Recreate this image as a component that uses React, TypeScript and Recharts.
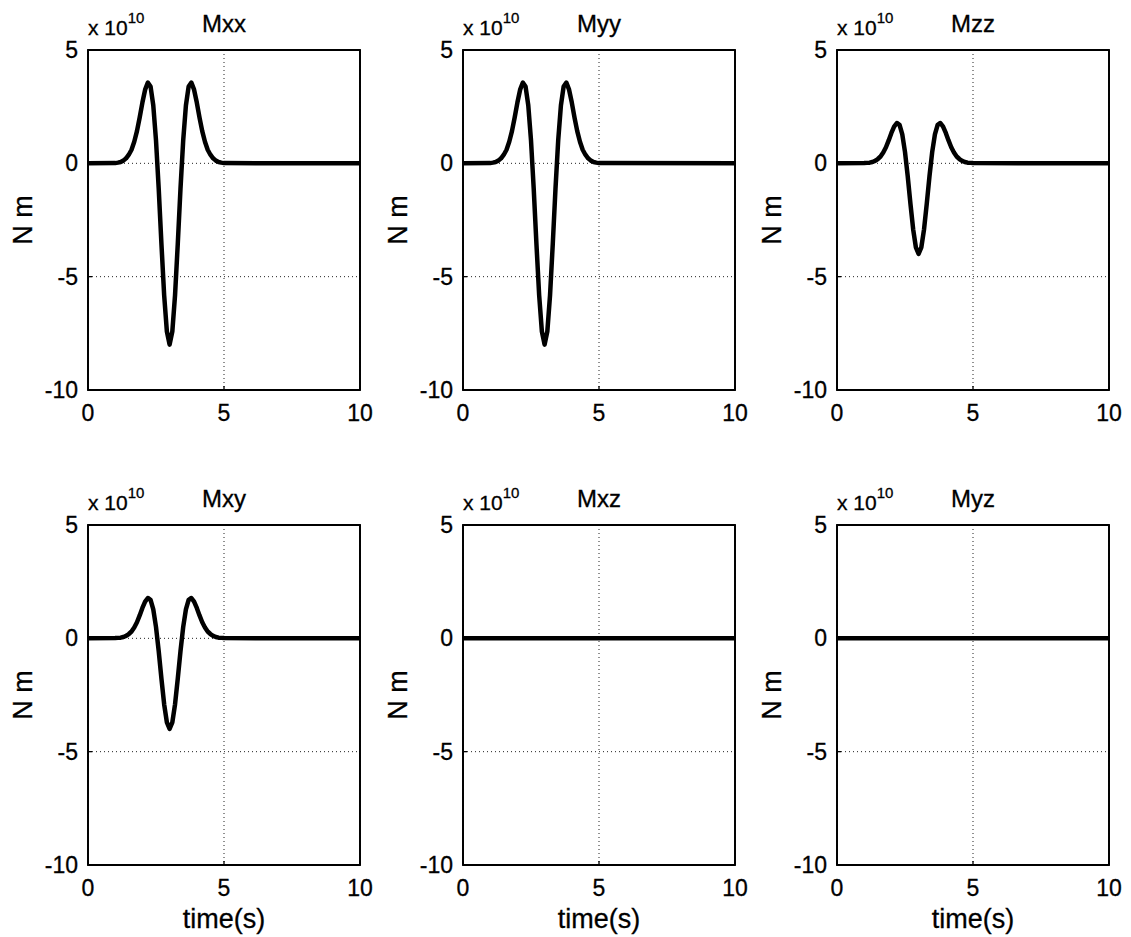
import React from "react";
import { LineChart, Line, XAxis, YAxis, CartesianGrid, ReferenceArea } from "recharts";

// ─── Data (values in units of 1e10 N m) ─────────────────────────────────────

const TIME = [
  0, 1.0, 1.1, 1.2, 1.3, 1.4, 1.5, 1.6, 1.7, 1.8, 1.9, 2.0, 2.1, 2.2, 2.3, 2.4, 2.5, 2.6, 2.7, 2.8, 2.9, 3.0,
  3.1, 3.2, 3.3, 3.4, 3.5, 3.6, 3.7, 3.8, 3.9, 4.0, 4.1, 4.2, 4.3, 4.4, 4.5, 4.6, 4.7, 4.8, 4.9, 5.0, 10,
];

const MXX = [
  0, 0.01, 0.03, 0.06, 0.12, 0.22, 0.38, 0.6, 0.95, 1.42, 2.02, 2.68, 3.25, 3.56, 3.39, 2.56, 1.01, -1.13, -3.56, -5.82,
  -7.42, -8.0, -7.42, -5.82, -3.56, -1.13, 1.01, 2.56, 3.39, 3.56, 3.25, 2.68, 2.02, 1.42, 0.95, 0.6, 0.38, 0.22, 0.12,
  0.06, 0.03, 0.01, 0,
];

const MYY = [
  0, 0.01, 0.03, 0.06, 0.12, 0.22, 0.38, 0.6, 0.95, 1.42, 2.02, 2.68, 3.25, 3.56, 3.39, 2.56, 1.01, -1.13, -3.56, -5.82,
  -7.42, -8.0, -7.42, -5.82, -3.56, -1.13, 1.01, 2.56, 3.39, 3.56, 3.25, 2.68, 2.02, 1.42, 0.95, 0.6, 0.38, 0.22, 0.12,
  0.06, 0.03, 0.01, 0,
];

const MZZ = [
  0, 0.01, 0.02, 0.03, 0.06, 0.11, 0.19, 0.3, 0.48, 0.71, 1.01, 1.34, 1.62, 1.78, 1.7, 1.28, 0.5, -0.57, -1.78, -2.91,
  -3.71, -4.0, -3.71, -2.91, -1.78, -0.57, 0.5, 1.28, 1.7, 1.78, 1.62, 1.34, 1.01, 0.71, 0.48, 0.3, 0.19, 0.11, 0.06,
  0.03, 0.02, 0.01, 0,
];

const MXY = [
  0, 0.01, 0.02, 0.03, 0.06, 0.11, 0.19, 0.3, 0.48, 0.71, 1.01, 1.34, 1.62, 1.78, 1.7, 1.28, 0.5, -0.57, -1.78, -2.91,
  -3.71, -4.0, -3.71, -2.91, -1.78, -0.57, 0.5, 1.28, 1.7, 1.78, 1.62, 1.34, 1.01, 0.71, 0.48, 0.3, 0.19, 0.11, 0.06,
  0.03, 0.02, 0.01, 0,
];

const FLAT_TIME = [0, 10];
const MXZ = [0, 0];
const MYZ = [0, 0];

const X_TICKS = [0, 5, 10];
const Y_TICKS = [-10, -5, 0, 5];

// ─── Layout ─────────────────────────────────────────────────────────────────

const FONT = '"Liberation Sans", Arial, Helvetica, sans-serif';
const PLOT_W = 272;
const PLOT_H = 340;
const LEFT = 88; // room for y ticks + "N m"
const TOP = 50; // room for title + multiplier
const RIGHT = 20;

const PANELS = [
  { title: "Mxx", time: TIME, values: MXX, x: 88, y: 50, bottom: false },
  { title: "Myy", time: TIME, values: MYY, x: 463, y: 50, bottom: false },
  { title: "Mzz", time: TIME, values: MZZ, x: 837, y: 50, bottom: false },
  { title: "Mxy", time: TIME, values: MXY, x: 88, y: 525, bottom: true },
  { title: "Mxz", time: FLAT_TIME, values: MXZ, x: 463, y: 525, bottom: true },
  { title: "Myz", time: FLAT_TIME, values: MYZ, x: 837, y: 525, bottom: true },
];

const TEXT_PROPS = { fontFamily: FONT, fill: "#000", stroke: "#000", strokeWidth: 0.3 };

function Panel({ title, time, values, bottom }: { title: string; time: number[]; values: number[]; bottom: boolean }) {
  const data = time.map((t, i) => ({ t, v: values[i] }));
  const height = bottom ? 462 : 460;
  const width = LEFT + PLOT_W + RIGHT;
  const cx = LEFT + PLOT_W / 2;
  const cy = TOP + PLOT_H / 2;
  const tickStyle = { fontSize: 23, fill: "#000", fontFamily: FONT, stroke: "#000", strokeWidth: 0.3 };
  const axisLine = { stroke: "#000", strokeWidth: 1.8 };
  const tickLine = { stroke: "#000", strokeWidth: 1.3 };

  return (
    <LineChart
      width={width}
      height={height}
      data={data}
      margin={{ top: TOP - 1, right: RIGHT - 1, bottom: height - TOP - PLOT_H - 30, left: 0 }}
      style={{ fontFamily: FONT }}
    >
      <CartesianGrid stroke="#222" strokeDasharray="1 3" />
      <XAxis
        dataKey="t"
        type="number"
        domain={[0, 10]}
        ticks={X_TICKS}
        interval={0}
        height={30}
        tick={tickStyle}
        tickSize={-4}
        tickMargin={19}
        axisLine={axisLine}
        tickLine={tickLine}
      />
      <XAxis
        xAxisId="top"
        dataKey="t"
        orientation="top"
        type="number"
        domain={[0, 10]}
        ticks={X_TICKS}
        interval={0}
        height={1}
        tick={false}
        tickSize={-4}
        axisLine={axisLine}
        tickLine={tickLine}
      />
      <YAxis
        type="number"
        domain={[-10, 5]}
        ticks={Y_TICKS}
        interval={0}
        width={LEFT}
        tick={tickStyle}
        tickSize={-4}
        tickMargin={14}
        axisLine={axisLine}
        tickLine={tickLine}
      />
      <YAxis
        yAxisId="right"
        orientation="right"
        type="number"
        domain={[-10, 5]}
        ticks={Y_TICKS}
        interval={0}
        width={1}
        tick={false}
        tickSize={-4}
        axisLine={axisLine}
        tickLine={tickLine}
      />
      {/* frame around the plot box */}
      <ReferenceArea x1={0} x2={10} y1={-10} y2={5} fill="none" stroke="#000" strokeWidth={1.8} />
      {/* invisible twin so the top / right axes have a series */}
      <Line
        xAxisId="top"
        yAxisId="right"
        type="linear"
        dataKey="v"
        stroke="none"
        dot={false}
        activeDot={false}
        isAnimationActive={false}
      />
      <Line
        type="linear"
        dataKey="v"
        stroke="#000"
        strokeWidth={4.5}
        strokeLinejoin="round"
        dot={false}
        isAnimationActive={false}
      />
      <text x={cx} y={32} textAnchor="middle" fontSize={24} {...TEXT_PROPS}>
        {title}
      </text>
      <text x={LEFT} y={35} fontSize={21} {...TEXT_PROPS}>
        x 10
        <tspan dy={-12} fontSize={15}>
          10
        </tspan>
      </text>
      <text
        x={0}
        y={0}
        transform={`translate(32, ${cy}) rotate(-90)`}
        textAnchor="middle"
        fontSize={27}
        {...TEXT_PROPS}
      >
        N m
      </text>
      {bottom && (
        <text x={cx} y={453} textAnchor="middle" fontSize={27} {...TEXT_PROPS}>
          time(s)
        </text>
      )}
    </LineChart>
  );
}

export default function App() {
  return (
    <div style={{ position: "absolute", left: 0, top: 0, width: 1131, height: 937, background: "#fff", overflow: "hidden" }}>
      {PANELS.map((p) => (
        <div key={p.title} style={{ position: "absolute", left: p.x - LEFT, top: p.y - TOP }}>
          <Panel title={p.title} time={p.time} values={p.values} bottom={p.bottom} />
        </div>
      ))}
    </div>
  );
}
